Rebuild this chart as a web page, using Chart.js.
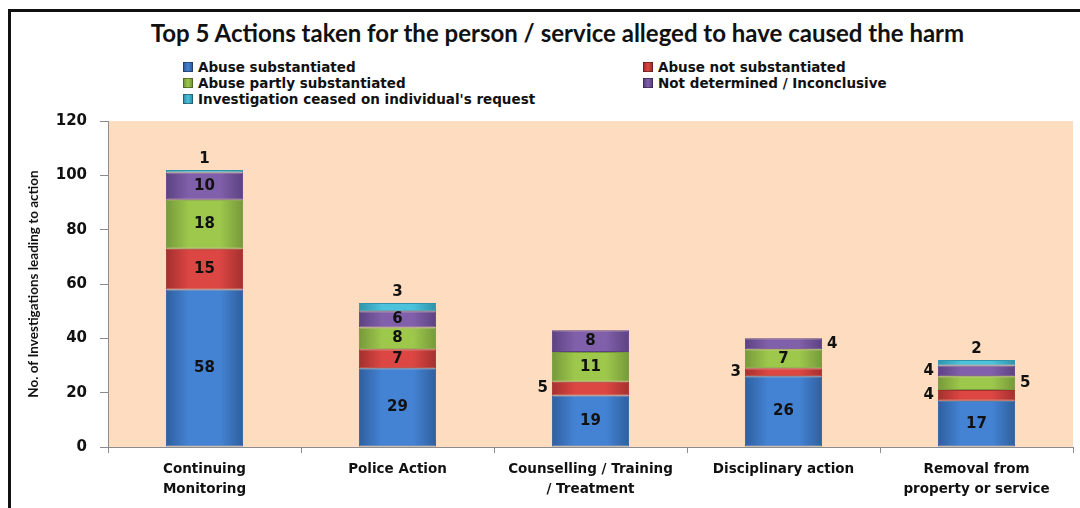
<!DOCTYPE html>
<html>
<head>
<meta charset="utf-8">
<script src="https://cdn.jsdelivr.net/npm/chart.js@4"></script>
<style>
  html, body { margin: 0; padding: 0; background: #fff; }
  #wrap { position: relative; width: 1080px; height: 508px; overflow: hidden; }
  #frame { position: absolute; left: 8px; top: 9px; width: 1090px; height: 520px;
           border-top: 3px solid #111; border-left: 3px solid #111; }
  #title { position: absolute; left: 0; width: 1115px; top: 18px; text-align: center;
           font: bold 24px Lato, sans-serif; color: #111; }
  .leg { position: absolute; font: bold 13.5px "DejaVu Sans", sans-serif; color: #111; white-space: nowrap; }
  .leg i { display: inline-block; width: 8px; height: 8px; margin-right: 5px; vertical-align: 0px; border: 1px solid rgba(0,0,0,0.35); }
  canvas { position: absolute; left: 0; top: 0; }
</style>
</head>
<body>
<div id="wrap">
  <div id="frame"></div>
  <div id="title">Top 5 Actions taken for the person / service alleged to have caused the harm</div>
  <div id="legend"></div>
  <canvas id="chart" width="1080" height="508"></canvas>
</div>
<script>
// Categories and series
const categories = [
    ['Continuing', 'Monitoring'],
    'Police Action',
    ['Counselling / Training', '/ Treatment'],
    'Disciplinary action',
    ['Removal from', 'property or service']
];
const seriesNames = [
    'Abuse substantiated',
    'Abuse not substantiated',
    'Abuse partly substantiated',
    'Not determined / Inconclusive',
    "Investigation ceased on individual's request"
];
const abuseSubstantiated = [58, 29, 19, 26, 17];
const abuseNotSubstantiated = [15, 7, 5, 3, 4];
const abusePartlySubstantiated = [18, 8, 11, 7, 5];
const notDetermined = [10, 6, 8, 4, 4];
const investigationCeased = [1, 3, 0, 0, 2];
const yMax = 120;
const yStep = 20;

// where each value label sits: c = centre, l = left, r = right, t = above
const labelPlacement = [
    ['c', 'c', 'c', 'c', 'c'],
    ['c', 'c', 'l', 'l', 'l'],
    ['c', 'c', 'c', 'c', 'r'],
    ['c', 'c', 'c', 'r', 'l'],
    ['t', 't', 't', 't', 't']
];

const colors = [
    { base: '#4483d4', edge: '#2f5f9e' },
    { base: '#dc4643', edge: '#a3302e' },
    { base: '#9dc84c', edge: '#76993a' },
    { base: '#8060aa', edge: '#5c4282' },
    { base: '#4cc2dd', edge: '#2f93ab' }
];

// build the html legend (two columns, three rows)
const legendSpots = [[183, 59], [643, 59], [183, 75], [643, 75], [183, 91]];
const legendEl = document.getElementById('legend');
seriesNames.forEach((name, i) => {
    const d = document.createElement('div');
    d.className = 'leg';
    d.style.left = legendSpots[i][0] + 'px';
    d.style.top = legendSpots[i][1] + 'px';
    d.innerHTML = `<i style="background: linear-gradient(90deg, ${colors[i].edge}, ${colors[i].base}, ${colors[i].edge});"></i>` + name;
    legendEl.appendChild(d);
});

const barPct = 0.4;

function barFill(c) {
    return function (ctx) {
        const chart = ctx.chart;
        const xs = chart.scales.x;
        if (!xs || !chart.chartArea || ctx.type !== 'data') return c.base;
        const cx = xs.getPixelForValue(ctx.dataIndex);
        const w = (xs.width / categories.length) * barPct;
        const g = chart.ctx.createLinearGradient(cx - w / 2, 0, cx + w / 2, 0);
        g.addColorStop(0, c.edge);
        g.addColorStop(0.3, c.base);
        g.addColorStop(0.7, c.base);
        g.addColorStop(1, c.edge);
        return g;
    };
}

const plotBackground = {
    id: 'plotBackground',
    beforeDraw(chart) {
        const a = chart.chartArea;
        chart.ctx.save();
        chart.ctx.fillStyle = '#fddcbf';
        chart.ctx.fillRect(a.left, a.top, a.right - a.left, a.bottom - a.top);
        chart.ctx.restore();
    }
};

const valueLabels = {
    id: 'valueLabels',
    afterDatasetsDraw(chart) {
        const ctx = chart.ctx;
        ctx.save();
        ctx.font = 'bold 15px "DejaVu Sans", sans-serif';
        ctx.fillStyle = '#111';
        ctx.textBaseline = 'middle';
        chart.data.datasets.forEach((ds, di) => {
            const meta = chart.getDatasetMeta(di);
            meta.data.forEach((bar, i) => {
                const v = ds.data[i];
                if (!v) return;
                const p = labelPlacement[di][i];
                const midY = (bar.y + bar.base) / 2;
                if (p === 'c') {
                    ctx.textAlign = 'center';
                    ctx.fillText(v, bar.x, midY);
                } else if (p === 'l') {
                    ctx.textAlign = 'right';
                    ctx.fillText(v, bar.x - bar.width / 2 - 4, midY);
                } else if (p === 'r') {
                    ctx.textAlign = 'left';
                    ctx.fillText(v, bar.x + bar.width / 2 + 5, midY);
                } else {
                    ctx.textAlign = 'center';
                    ctx.fillText(v, bar.x, bar.y - 11);
                }
            });
        });
        ctx.restore();
    }
};

const seriesData = [abuseSubstantiated, abuseNotSubstantiated, abusePartlySubstantiated, notDetermined, investigationCeased];

new Chart(document.getElementById('chart'), {
    type: 'bar',
    data: {
        labels: categories,
        datasets: seriesData.map((data, i) => ({
            label: seriesNames[i],
            data: data,
            backgroundColor: barFill(colors[i]),
            borderColor: colors[i].edge,
            borderWidth: 1,
            borderSkipped: false,
            categoryPercentage: 1,
            barPercentage: barPct
        }))
    },
    options: {
        responsive: false,
        animation: false,
        layout: { padding: { top: 121, right: 7, left: 0, bottom: 0 } },
        plugins: {
            legend: { display: false },
            title: { display: false },
            tooltip: { enabled: false }
        },
        scales: {
            x: {
                stacked: true,
                afterFit(scale) { scale.height = 61; },
                grid: { offset: true, drawOnChartArea: false, drawTicks: true, tickLength: 6, color: '#8c8c8c' },
                border: { color: '#8c8c8c' },
                ticks: {
                    color: '#111',
                    padding: 7,
                    maxRotation: 0,
                    font: { family: '"DejaVu Sans", sans-serif', size: 13.5, weight: 'bold', lineHeight: 1.45 }
                }
            },
            y: {
                stacked: true,
                min: 0,
                max: yMax,
                afterFit(scale) { scale.width = 108; },
                grid: { drawOnChartArea: false, drawTicks: true, tickLength: 8, color: '#8c8c8c' },
                border: { color: '#8c8c8c' },
                ticks: {
                    stepSize: yStep,
                    color: '#111',
                    padding: 13,
                    font: { family: '"DejaVu Sans", sans-serif', size: 15, weight: 'bold' }
                },
                title: {
                    display: true,
                    text: 'No. of Investigations leading to action',
                    color: '#111',
                    padding: { top: 26, bottom: 0 },
                    font: { family: 'Lato, sans-serif', size: 13.5, weight: 'bold', lineHeight: 1.2 }
                }
            }
        }
    },
    plugins: [plotBackground, valueLabels]
});
</script>
</body>
</html>
